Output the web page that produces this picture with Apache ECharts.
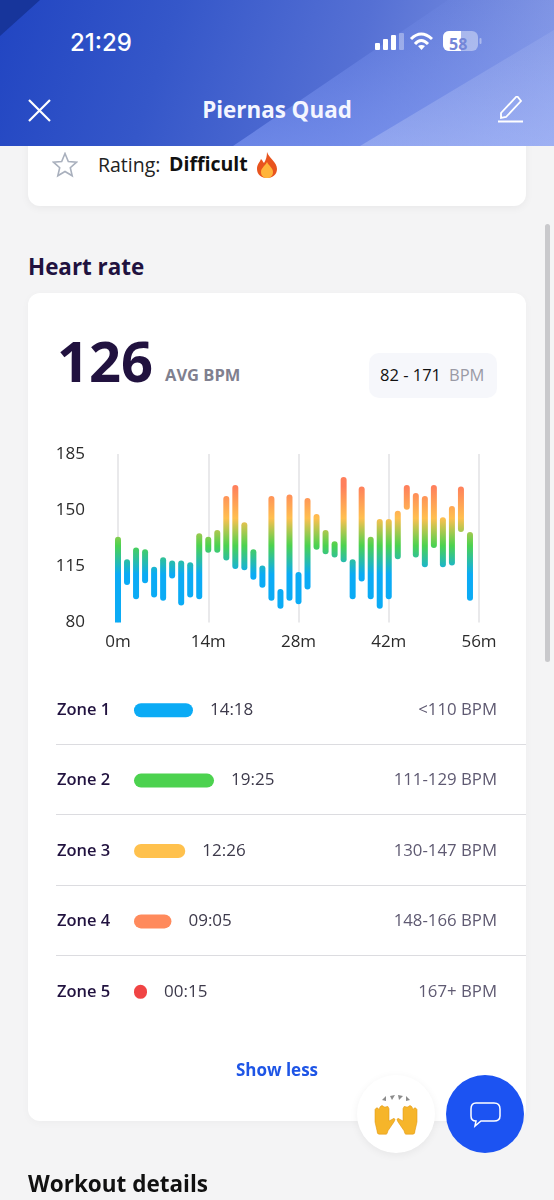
<!DOCTYPE html>
<html>
<head>
<meta charset="utf-8">
<title>Heart rate</title>
<script src="https://cdn.jsdelivr.net/npm/echarts@6/dist/echarts.min.js"></script>
<style>
html, body { margin: 0; padding: 0; }
body { width: 554px; height: 1200px; position: relative; overflow: hidden; background: #f4f4f5; font-family: "Open Sans", sans-serif; }
.t { position: absolute; white-space: nowrap; line-height: 1; }
.box { position: absolute; }
#main-chart { position: absolute; left: 0; top: 0; width: 554px; height: 1200px; }
.sep { position: absolute; left: 56px; width: 470px; height: 1px; background: #dcdce0; }
</style>
</head>
<body>
<!-- cards -->
<div class="box" style="left:28px;top:120px;width:498px;height:86px;background:#fff;border-radius:12px;box-shadow:0 2px 8px rgba(0,0,0,.05)"></div>
<div class="box" style="left:28px;top:293px;width:498px;height:828px;background:#fff;border-radius:12px;box-shadow:0 2px 8px rgba(0,0,0,.03)"></div>
<div class="box" style="left:545px;top:224px;width:5px;height:438px;background:#c9c9cc;border-radius:3px"></div>

<!-- header -->
<div class="box" style="left:0;top:0;width:554px;height:146px;overflow:hidden;background:linear-gradient(108deg,#2145c2 0%,#3557c9 30%,#5570d4 62%,#8a9de6 100%)">
  <div class="box" style="left:0;top:0;width:554px;height:146px;background:#17359b;clip-path:polygon(0 0,40px 0,0 36px)"></div>
  <div class="box" style="left:0;top:0;width:554px;height:146px;background:linear-gradient(to top,rgba(130,155,245,.6),rgba(130,155,245,.08));clip-path:polygon(233px 146px,448px 0,554px 0,554px 146px)"></div>
  <div class="box" style="left:0;top:0;width:554px;height:146px;background:linear-gradient(to top,rgba(220,228,255,.28),rgba(220,228,255,.05));clip-path:polygon(360px 146px,554px 30px,554px 146px)"></div>
</div>
<div class="t" style="left:70px;top:28px;font:500 24px Inter,sans-serif;color:#fff">21:29</div>
<svg class="box" style="left:370px;top:25px" width="150" height="30">
  <g fill="#fff"><rect x="5" y="18" width="5" height="7" rx="1"/><rect x="13" y="14" width="5" height="11" rx="1"/><rect x="21" y="10" width="5" height="15" rx="1"/></g>
  <rect x="29" y="8" width="5" height="17" rx="1" fill="#fff" opacity=".35"/>
  <g fill="none" stroke="#fff" stroke-width="3"><path d="M41 14 Q51 4 62 14"/><path d="M45 19 Q51 12 58 19"/></g>
  <path d="M48 21 L51.500 25 L55 21 Q51.500 19 48 21Z" fill="#fff"/>
  <rect x="73" y="6" width="35" height="20" rx="6" fill="#fff" opacity=".4"/>
  <path d="M79 6 H91 V26 H79 A6 6 0 0 1 73 20 V12 A6 6 0 0 1 79 6Z" fill="#fff"/>
  <rect x="109.500" y="13" width="2" height="6" rx="1" fill="#fff" opacity=".4"/>
</svg>
<div class="t" style="left:449px;top:33px;font:700 16px 'Open Sans',sans-serif;color:#7486d8">58</div>
<svg class="box" style="left:26px;top:97px" width="28" height="28"><path d="M3 3 L24 24 M24 3 L3 24" stroke="#fff" stroke-width="2.200" fill="none"/></svg>
<div class="t" style="left:0;width:554px;text-align:center;top:99px;font-size:22.400px;font-weight:700;color:#f4f6ff">Piernas Quad</div>
<svg class="box" style="left:497px;top:96px" width="28" height="28"><path d="M4 20 L4 25 L9 24 L24 8 L20 3 Z" transform="translate(0,-3)" fill="none" stroke="#fff" stroke-width="1.800"/><path d="M1 25.500 H26" stroke="#fff" stroke-width="2"/></svg>

<!-- rating row -->
<svg class="box" style="left:52px;top:152px" width="26" height="26"><path d="M13 1.500 L16.300 9.500 L24.500 10.200 L18.300 15.700 L20.200 23.800 L13 19.500 L5.800 23.800 L7.700 15.700 L1.500 10.200 L9.700 9.500 Z" fill="none" stroke="#a9b0bd" stroke-width="1.600"/></svg>
<div class="t" style="left:98px;top:155px;font-size:19.500px;color:#222">Rating:</div>
<div class="t" style="left:169px;top:154px;font-size:19.500px;font-weight:700;color:#111">Difficult</div>
<svg class="box" style="left:254px;top:151px" width="26" height="28"><path d="M13 1 C15 7 23 11 23 18 C23 24 18 27 13 27 C8 27 3 24 3 18 C3 13 6 11 7 8 C9 10 9 11 10 12 C12 9 13 5 13 1Z" fill="#e8541e"/><path d="M13 11 C15 15 19 17 19 21 C19 25 16 27 13 27 C10 27 7 25 7 21 C7 17 11 15 13 11Z" fill="#ffb43a"/></svg>

<!-- heart rate header -->
<div class="t" style="left:28px;top:256px;font-size:22.400px;font-weight:700;color:#21123f">Heart rate</div>
<div class="t" style="left:57px;top:332px;font-size:56px;font-weight:700;color:#21123f">126</div>
<div class="t" style="left:165px;top:367px;font-size:16.500px;font-weight:700;color:#80808f">AVG BPM</div>
<div class="box" style="left:369px;top:353px;width:128px;height:45px;background:#f6f7fb;border-radius:10px"></div>
<div class="t" style="left:380px;top:367px;font-size:16.500px;font-weight:500;color:#111">82 - 171</div>
<div class="t" style="left:449px;top:367px;font-size:16.500px;color:#9a9aa5">BPM</div>

<div class="sep" style="top:744px"></div>
<div class="sep" style="top:814px"></div>
<div class="sep" style="top:885px"></div>
<div class="sep" style="top:955px"></div>

<div id="main-chart"></div>

<div class="t" style="left:0;width:554px;text-align:center;top:1061px;font-size:17px;font-weight:700;color:#1e55e6">Show less</div>
<div class="t" style="left:28px;top:1173px;font-size:22.500px;font-weight:700;color:#111">Workout details</div>

<!-- floating buttons -->
<div class="box" style="left:357px;top:1075px;width:78px;height:78px;border-radius:50%;background:#fff;box-shadow:0 2px 8px rgba(0,0,0,.06)"></div>
<svg class="box" style="left:372px;top:1092px" width="48" height="46">
  <g fill="#f6b52a" stroke="#e09a18" stroke-width=".6" transform="translate(0,7) scale(1,.88)">
    <path d="M3 26 L3 12 Q5 8 7 12 L8 9 Q10 6 12 9 L14 9 Q16 7 17 11 L17 25 L22 22 Q24 23 22 26 L16 36 Q15 41 14 40 H7 Q5 40 5 36 Z"/>
    <path d="M45 26 L45 12 Q43 8 41 12 L40 9 Q38 6 36 9 L34 9 Q32 7 31 11 L31 25 L26 22 Q24 23 26 26 L32 36 Q33 41 34 40 H41 Q43 40 43 36 Z"/>
  </g>
  <g fill="#8b8b8b"><path d="M10 8 L14 4 L14 9Z"/><path d="M18 4 L23 3 L20 8Z"/><path d="M26 3 L31 4 L27 8Z"/><path d="M34 4 L38 8 L34 9Z"/></g>
</svg>
<div class="box" style="left:446px;top:1075px;width:78px;height:78px;border-radius:50%;background:#1c53f2"></div>
<svg class="box" style="left:469px;top:1099px" width="32" height="32"><path d="M6 2 H24 Q30 2 30 8 V15 Q30 20 24 20 H11 L5 25 L6 20 Q1 20 1 15 V8 Q1 2 6 2Z" transform="translate(1,2)" fill="none" stroke="#fff" stroke-width="1.500"/></svg>

<script>
// bar positions in minutes and the low / high BPM of each bar
const barMinutes = [0, 1.4, 2.8, 4.2, 5.6, 7, 8.4, 9.8, 11.2, 12.6, 14, 15.4, 16.8, 18.2, 19.6, 21, 22.4, 23.8, 25.2, 26.6,
    28, 29.4, 30.8, 32.2, 33.6, 35, 36.4, 37.8, 39.2, 40.6, 42, 43.4, 44.8, 46.2, 47.6, 49, 50.4, 51.8, 53.2, 54.6];
const bpmHigh = [133.5, 119.4, 126.7, 125.7, 114.7, 120.7, 118.6, 118.6, 117.6, 135.6, 133.5, 137.7, 158.9, 165.7, 142.5, 125.7, 115.5, 158.9, 100.8, 159.7,
    111.5, 157.6, 147.6, 137.7, 130.6, 170.7, 119.4, 164.7, 133.5, 144.5, 144.5, 149.7, 165.7, 160.7, 158.9, 165.7, 145.6, 152.6, 164.7, 136.4];
const bpmLow = [80, 103.4, 94.5, 104.5, 95.6, 93.5, 107.4, 90.6, 95.6, 94.5, 123.4, 123.4, 118.6, 113.4, 112.6, 106.6, 101.6, 93.5, 88.5, 93.5,
    91.4, 100.5, 125.4, 122.5, 120.5, 117.6, 94.5, 105.5, 94.5, 88.5, 94.5, 119.4, 150.3, 120.5, 114.4, 126.5, 114.4, 115.5, 136.4, 93.5];
const yTicks = [80, 115, 150, 185];
const gradientBpm = [110, 128, 145, 165];
const gradientColors = ['#0babf5', '#4cd24f', '#ffbf4f', '#ff7f5c'];

const zoneNames = ['Zone 1', 'Zone 2', 'Zone 3', 'Zone 4', 'Zone 5'];
const zoneSeconds = [858, 1165, 746, 545, 15];
const zoneColors = ['#0babf5', '#4cd24f', '#ffc14d', '#ff8a5c', '#f04444'];
const zoneRanges = ['<110 BPM', '111-129 BPM', '130-147 BPM', '148-166 BPM', '167+ BPM'];

const fontFamily = '"Open Sans", sans-serif';
const myChart = echarts.init(document.getElementById('main-chart'), null, { renderer: 'canvas' });

function renderBar(params, api) {
    const top = api.coord([api.value(0), api.value(1)]);
    const bottom = api.coord([api.value(0), api.value(2)]);
    const y185 = api.coord([0, 185])[1];
    const y80 = api.coord([0, 80])[1];
    const stops = gradientBpm.map((bpm, i) => ({ offset: (185 - bpm) / 105, color: gradientColors[i] })).reverse();
    // a bar that reaches the axis floor is cut flat there
    const radius = api.value(2) <= 80 ? [3, 3, 0, 0] : 3;
    return {
        type: 'rect',
        shape: { x: top[0] - 3, y: top[1], width: 6, height: bottom[1] - top[1], r: radius },
        style: { fill: new echarts.graphic.LinearGradient(0, y185, 0, y80, stops, true) }
    };
}

function formatSeconds(seconds) {
    const m = Math.floor(seconds / 60);
    const s = seconds % 60;
    return String(m).padStart(2, '0') + ':' + String(s).padStart(2, '0');
}

const option = {
    animation: false,
    backgroundColor: 'transparent',
    textStyle: { fontFamily },
    grid: [
        { left: 118, right: 75, top: 454, height: 168.500 },
        { left: 134, right: 57, top: 675, height: 352 }
    ],
    xAxis: [
        {
            gridIndex: 0, type: 'value', min: 0, max: 56, interval: 14,
            axisLine: { show: false }, axisTick: { show: false },
            splitLine: { show: true, lineStyle: { color: '#e2e2e5', width: 1.500 } },
            axisLabel: { formatter: '{value}m', color: '#2b2b2b', fontSize: 17, fontFamily, margin: 11 }
        },
        { gridIndex: 1, type: 'value', min: 0, max: 5284, show: false }
    ],
    yAxis: [
        {
            gridIndex: 0, type: 'value', min: 80, max: 185,
            axisLine: { show: false }, axisTick: { show: false }, splitLine: { show: false },
            axisLabel: { customValues: yTicks, color: '#2b2b2b', fontSize: 17, fontFamily, margin: 33 }
        },
        {
            gridIndex: 1, type: 'category', inverse: true, data: zoneNames,
            axisLine: { show: false }, axisTick: { show: false },
            axisLabel: { align: 'left', margin: 77, color: '#21123f', fontSize: 16.500, fontWeight: 600, fontFamily }
        },
        {
            gridIndex: 1, type: 'category', inverse: true, position: 'right', data: zoneRanges,
            axisLine: { show: false }, axisTick: { show: false },
            axisLabel: { inside: true, margin: 0, color: '#5f5a72', fontSize: 16.800, fontFamily }
        }
    ],
    series: [
        {
            type: 'custom',
            xAxisIndex: 0,
            yAxisIndex: 0,
            clip: false,
            data: barMinutes.map((m, i) => [m, bpmHigh[i], bpmLow[i]]),
            encode: { x: 0, y: [1, 2] },
            renderItem: renderBar
        },
        {
            type: 'bar',
            xAxisIndex: 1,
            yAxisIndex: 1,
            barWidth: 14,
            barMinHeight: 13,
            data: zoneSeconds.map((value, i) => ({ value, itemStyle: { color: zoneColors[i], borderRadius: 7 } })),
            label: {
                show: true, position: 'right', distance: 17, color: '#3d3a4b', fontSize: 17, fontFamily,
                formatter: params => formatSeconds(params.value)
            }
        }
    ]
};
myChart.setOption(option);
</script>
</body>
</html>
